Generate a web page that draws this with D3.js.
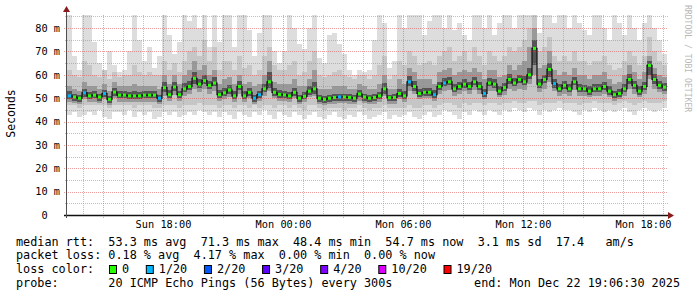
<!DOCTYPE html>
<html>
<head>
<meta charset="utf-8">
<script src="https://cdn.jsdelivr.net/npm/d3@7"></script>
<style>
  body { margin: 0; background: #fff; }
  text { font-family: "DejaVu Sans Mono", monospace; }
</style>
</head>
<body>
<svg id="chart"></svg>
<script>
// Time range of the graph (UTC), one column per 15 minutes.
const startTime = new Date(Date.UTC(2025, 11, 21, 13, 12));
const endTime = new Date(Date.UTC(2025, 11, 22, 19, 12));
const stepMin = 15;

// Median rtt per column (ms).
const median = [
  51, 50.5, 50, 52.3, 51, 51.3, 50.5, 52, 49.5, 52.6,
  51.3, 51.3, 51, 51, 51, 51.3, 51.3, 51.3, 50, 54.5,
  51.5, 54.8, 51.5, 54, 55, 58.5, 56, 57.5, 55.5, 56.5,
  51.5, 52.3, 53.5, 51, 55, 51, 52.5, 50, 51.5, 54,
  57, 52.5, 51.6, 51.4, 51, 52.5, 50, 50.8, 53, 54,
  50, 49.5, 50, 50.3, 50.5, 50.5, 50.3, 50, 51.8, 50.5,
  50, 50.3, 51, 54, 50.2, 50.3, 52, 51, 57, 55,
  52, 52.5, 52.5, 51.5, 55, 56.5, 57, 54, 55, 56,
  55, 57, 55, 52, 56.5, 56, 53, 54.5, 58, 56.5,
  58, 57, 60, 71.3, 56, 58, 62.3, 56.2, 54, 55.5,
  54, 57, 54, 54, 53, 54, 54, 55, 53, 51.5,
  52, 54, 58, 55.5, 53, 55, 64, 58, 55.5, 54.7
];

// Lost pings (of 20) per column.
const loss = [
  1, 0, 0, 1, 0, 0, 0, 1, 0, 0,
  0, 0, 0, 0, 0, 0, 0, 0, 1, 0,
  0, 0, 0, 0, 0, 0, 0, 0, 0, 0,
  0, 0, 0, 0, 0, 0, 0, 1, 1, 0,
  0, 0, 0, 0, 0, 0, 0, 0, 0, 0,
  0, 0, 0, 0, 1, 0, 0, 0, 0, 0,
  0, 0, 0, 0, 0, 0, 0, 0, 1, 0,
  0, 0, 0, 1, 0, 1, 0, 0, 0, 0,
  0, 0, 0, 1, 0, 0, 0, 0, 0, 0,
  0, 0, 0, 0, 0, 0, 0, 1, 0, 0,
  0, 0, 0, 0, 0, 0, 0, 0, 0, 0,
  0, 0, 0, 0, 0, 0, 0, 0, 0, 0
];

// Slowest ping per column (ms); values above the top are clipped.
const pingMax = [
  86, 68, 62, 86, 86, 74, 65, 60, 70, 64,
  61, 62, 70, 86, 75, 66, 72, 63, 68, 86,
  77, 69, 74, 86, 83, 86, 80, 86, 72, 86,
  74, 86, 86, 72, 86, 86, 79, 68, 78, 86,
  86, 70, 65, 70, 86, 80, 73, 71, 80, 86,
  67, 65, 77, 78, 73, 69, 62, 60, 62, 61,
  62, 75, 86, 82, 63, 66, 86, 80, 86, 86,
  86, 77, 83, 86, 86, 80, 86, 79, 82, 77,
  75, 86, 86, 80, 86, 77, 82, 86, 86, 80,
  86, 86, 86, 86, 78, 86, 86, 82, 86, 86,
  80, 86, 82, 79, 77, 86, 86, 80, 75, 86,
  82, 77, 86, 80, 75, 82, 86, 80, 75, 69
];

// Upper outer smoke (ms).
const pingHiMid = [
  62, 60, 59, 66, 64, 60, 59, 62, 58, 61,
  59, 60, 60, 64, 61, 60, 61, 60, 60, 66,
  62, 65, 61, 66, 70, 72, 68, 75, 66, 72,
  62, 66, 66, 62, 68, 63, 64, 60, 62, 68,
  72, 64, 62, 62, 64, 66, 60, 61, 66, 70,
  60, 59, 60, 61, 62, 60, 59, 58, 60, 60,
  58, 60, 64, 68, 58, 60, 66, 64, 70, 68,
  64, 65, 66, 64, 68, 70, 72, 66, 68, 70,
  66, 72, 68, 64, 70, 68, 66, 68, 72, 70,
  72, 75, 80, 86, 70, 72, 76, 68, 66, 68,
  66, 70, 66, 66, 64, 66, 66, 68, 64, 62,
  63, 66, 70, 68, 64, 68, 76, 70, 66, 64
];

// Upper inner smoke (ms).
const pingHiIn = [
  55, 54, 53, 57, 55, 55, 54, 56, 53, 57,
  55, 55, 55, 56, 55, 55, 55, 55, 54, 60,
  56, 60, 56, 60, 62, 66, 62, 64, 60, 62,
  56, 58, 59, 56, 60, 56, 57, 55, 56, 60,
  66, 57, 56, 56, 56, 58, 55, 55, 58, 62,
  54, 54, 54, 55, 55, 55, 54, 54, 56, 55,
  54, 54, 56, 60, 54, 54, 58, 56, 63, 61,
  58, 58, 58, 56, 61, 62, 63, 60, 61, 62,
  61, 63, 61, 58, 62, 62, 59, 60, 64, 62,
  64, 66, 72, 80, 63, 64, 70, 62, 60, 61,
  60, 63, 60, 60, 58, 60, 60, 61, 58, 56,
  57, 60, 64, 61, 58, 61, 68, 63, 60, 59
];

// Upper core of the smoke (ms).
const pingHiCore = [
  53, 52, 51.5, 54, 52.5, 53, 52, 53.5, 51, 54.5,
  53, 53, 52.5, 53, 52.5, 53, 53, 53, 51.5, 57,
  53.5, 57, 53, 56.5, 57.5, 61, 58, 60, 57.5, 59,
  53.5, 54.5, 55.5, 53, 57.5, 53, 54.5, 51.5, 53, 56,
  61, 54.5, 53.5, 53, 52.5, 54.5, 51.5, 52.5, 55, 57,
  51.5, 51, 51.5, 52, 52, 52, 52, 51.5, 53.5, 52,
  51.5, 52, 52.5, 56.5, 51.5, 52, 54, 53, 59.5, 57.5,
  54, 54.5, 54.5, 53.5, 57, 58.5, 59, 56, 57, 58,
  57, 59, 57, 54, 58.5, 58, 55, 56.5, 60.5, 58.5,
  60, 59.5, 63, 75, 58, 60, 65, 58, 56, 57.5,
  56, 59, 56, 55.5, 55, 56, 56, 57, 55, 53,
  54, 56, 60.5, 57.5, 55, 57, 66, 60.5, 57.5, 56.5
];

// Lower core of the smoke (ms).
const pingLoCore = [
  49.5, 49, 48.5, 50.5, 49.5, 50, 49, 50.5, 48, 51,
  50, 50, 49.5, 49.5, 49.5, 50, 50, 50, 48.5, 52.5,
  50, 53, 50, 52.5, 53.5, 56, 54.5, 56, 54, 55,
  50, 51, 52, 49.5, 53.5, 49.5, 51, 48.5, 50, 52.5,
  54.5, 51, 50, 50, 49.5, 51, 48.5, 49.5, 51.5, 52,
  48.5, 48, 48.5, 49, 49, 49, 49, 48.5, 50.5, 49,
  48.5, 49, 49.5, 52, 49, 49, 50.5, 49.5, 55, 53,
  50.5, 51, 51, 50, 53.5, 55, 55.5, 52.5, 53.5, 54.5,
  53.5, 55.5, 53.5, 50.5, 55, 54.5, 51.5, 53, 56, 55,
  56.5, 55.5, 58, 64, 54.5, 56.5, 59, 54.5, 52.5, 54,
  52.5, 55.5, 52.5, 52.5, 51.5, 52.5, 52.5, 53.5, 51.5, 50,
  50.5, 52.5, 56, 54, 51.5, 53.5, 60, 56, 54, 53
];

// Lower inner smoke (ms).
const pingLoIn = [
  48.5, 48, 47.5, 49.5, 48.5, 48.5, 48, 49.5, 47, 50,
  48.5, 48.5, 48.5, 48.5, 48.5, 48.5, 48.5, 48.5, 47.5, 51,
  49, 51.5, 49, 51, 52, 54, 52.5, 54, 52, 53,
  49, 49.5, 50.5, 48.5, 52, 48.5, 50, 47.5, 49, 51,
  53, 50, 49, 49, 48.5, 50, 47.5, 48.5, 50.5, 51,
  47.5, 47, 47.5, 47.5, 48, 48, 47.5, 47.5, 49, 48,
  47.5, 47.5, 48.5, 51, 47.5, 47.5, 49.5, 48.5, 53, 52,
  49.5, 50, 50, 49, 52, 53, 53.5, 51, 52, 53,
  52, 53.5, 52, 49.5, 53, 53, 50.5, 51.5, 54, 53,
  54, 53.5, 56, 60, 52.5, 54, 57, 53, 51, 52,
  51, 53.5, 51, 51, 50.5, 51, 51, 52, 50.5, 49,
  49.5, 51, 54, 52, 50.5, 52, 58, 54, 52.5, 52
];

// Lower outer smoke (ms).
const pingLoMid = [
  47, 47, 46, 47, 47, 47, 47, 47, 46, 47,
  47, 47, 47, 46, 47, 47, 47, 46, 46, 47,
  47, 47, 46, 47, 47, 47, 48, 47, 47, 47,
  46, 47, 47, 46, 47, 47, 46, 47, 46, 47,
  47, 46, 47, 47, 46, 47, 46, 45, 47, 47,
  46, 45, 46, 46, 46, 45, 46, 46, 47, 46,
  45, 46, 46, 47, 46, 46, 46, 46, 47, 46,
  46, 47, 47, 46, 47, 48, 48, 47, 46, 48,
  47, 48, 48, 47, 48, 48, 47, 48, 48, 49,
  48, 48, 49, 49, 47, 48, 48, 48, 49, 48,
  48, 48, 47, 48, 48, 49, 48, 48, 48, 47,
  48, 49, 48, 47, 48, 49, 48, 48, 48, 49
];

// Fastest ping per column (ms).
const pingMin = [
  43, 44, 42, 43, 44, 43, 45, 42, 41, 44,
  44, 43, 45, 42, 44, 43, 44, 41, 42, 44,
  43, 44, 42, 43, 44, 43, 45, 44, 43, 44,
  42, 44, 43, 41, 44, 43, 42, 44, 43, 45,
  43, 41, 44, 43, 42, 44, 43, 41, 43, 44,
  42, 41, 43, 44, 42, 41, 43, 42, 44, 43,
  41, 42, 43, 44, 41, 43, 42, 43, 44, 42,
  41, 43, 44, 42, 43, 45, 44, 43, 41, 44,
  43, 45, 44, 43, 45, 44, 43, 45, 44, 46,
  45, 44, 46, 45, 43, 45, 44, 45, 46, 45,
  45, 44, 43, 45, 44, 46, 45, 44, 45, 44,
  45, 46, 44, 43, 45, 46, 45, 44, 45, 46
];

// Axes.
const yMax = 85.6;
const yTicks = [0, 10, 20, 30, 40, 50, 60, 70, 80];
const yTickLabels = ['0  ', '10 m', '20 m', '30 m', '40 m', '50 m', '60 m', '70 m', '80 m'];
const xTickTimes = [
  new Date(Date.UTC(2025, 11, 21, 18)), new Date(Date.UTC(2025, 11, 22, 0)),
  new Date(Date.UTC(2025, 11, 22, 6)), new Date(Date.UTC(2025, 11, 22, 12)),
  new Date(Date.UTC(2025, 11, 22, 18))
];
const xTickLabels = ['Sun 18:00', 'Mon 00:00', 'Mon 06:00', 'Mon 12:00', 'Mon 18:00'];

// Legend.
const statLines = [
  'median rtt:  53.3 ms avg  71.3 ms max  48.4 ms min  54.7 ms now  3.1 ms sd  17.4   am/s',
  'packet loss: 0.18 % avg  4.17 % max  0.00 % min  0.00 % now'
];
const lossLabels = ['0', '1/20', '2/20', '3/20', '4/20', '10/20', '19/20'];
const lossColors = ['#26ff00', '#00b8ff', '#0059ff', '#5e00ff', '#7e00ff', '#dd00ff', '#ff0000'];
const lossSteps = [0, 1, 2, 3, 4, 10, 19];
const probeText = 'probe:       20 ICMP Echo Pings (56 Bytes) every 300s';
const endText = 'end: Mon Dec 22 19:06:30 2025';

// SVG constants.
const width = 697;
const height = 297;
const plot = { left: 67, right: 667, top: 15, bottom: 215 };

const svg = d3.select('#chart')
              .attr('width', width)
              .attr('height', height);

svg.append('rect')
   .attr('width', width)
   .attr('height', height)
   .attr('fill', '#ffffff');

const x = d3.scaleUtc().domain([startTime, endTime]).range([plot.left, plot.right]);
const y = d3.scaleLinear().domain([0, yMax]).range([plot.bottom, plot.top]);

const times = median.map((d, i) => d3.utcMinute.offset(startTime, stepMin * i));
const colW = x(times[1]) - x(times[0]);
const clip = v => Math.min(v, yMax);

// Smoke: outer to inner bands.
const bands = [
  [pingMin, pingMax, '#dddddd'],
  [pingLoMid, pingHiMid, '#c6c6c6'],
  [pingLoIn, pingHiIn, '#999999'],
  [pingLoCore, pingHiCore, '#555555']
];
bands.forEach(([lo, hi, color]) => {
  svg.append('g')
     .selectAll('rect')
     .data(times)
     .join('rect')
     .attr('x', d => x(d))
     .attr('width', colW)
     .attr('y', (d, i) => y(clip(hi[i])))
     .attr('height', (d, i) => y(lo[i]) - y(clip(hi[i])))
     .attr('fill', color)
     .attr('shape-rendering', 'crispEdges');
});

// Grid.
const grid = svg.append('g').attr('shape-rendering', 'crispEdges');
const minorCol = 'rgba(140,140,140,0.55)';
const majorCol = 'rgba(225,80,80,0.55)';
d3.utcHour.range(startTime, endTime).forEach(t => {
  const major = t.getUTCHours() % 3 === 0;
  grid.append('line')
      .attr('x1', Math.round(x(t)) + 0.5).attr('x2', Math.round(x(t)) + 0.5)
      .attr('y1', plot.top).attr('y2', plot.bottom + (major ? 3 : 2))
      .attr('stroke', major ? majorCol : minorCol)
      .attr('stroke-dasharray', '1,1');
});
d3.range(5, yMax, 5).forEach(v => {
  const major = v % 10 === 0;
  grid.append('line')
      .attr('x1', plot.left - (major ? 3 : 2)).attr('x2', plot.right + 1)
      .attr('y1', Math.round(y(v)) + 0.5).attr('y2', Math.round(y(v)) + 0.5)
      .attr('stroke', major ? majorCol : minorCol)
      .attr('stroke-dasharray', '1,1');
});

// Median line and loss-coloured marks.
const colorFor = l => {
  let c = lossColors[0];
  lossSteps.forEach((s, k) => { if (l >= s) c = lossColors[k]; });
  return c;
};
svg.append('path')
   .datum(median)
   .attr('d', d3.line()
                .x((d, i) => x(times[i]) + colW / 2)
                .y(d => y(d))
                .curve(d3.curveStep))
   .attr('fill', 'none')
   .attr('stroke', '#111111')
   .attr('stroke-width', 1.2);
svg.append('g')
   .selectAll('rect')
   .data(median)
   .join('rect')
   .attr('x', (d, i) => x(times[i]) + 1)
   .attr('width', colW - 2)
   .attr('y', d => y(d) - 1.5)
   .attr('height', 3)
   .attr('fill', (d, i) => colorFor(loss[i]));

// Axis lines and arrows.
svg.append('line')
   .attr('x1', plot.left - 3).attr('x2', plot.right + 3)
   .attr('y1', plot.bottom + 0.5).attr('y2', plot.bottom + 0.5)
   .attr('stroke', '#101010').attr('stroke-width', 1.4);
svg.append('line')
   .attr('x1', plot.left - 0.5).attr('x2', plot.left - 0.5)
   .attr('y1', plot.bottom + 3).attr('y2', plot.top - 4)
   .attr('stroke', '#505050');
svg.append('path')
   .attr('d', `M${plot.right + 1},${plot.bottom - 3}L${plot.right + 7},${plot.bottom + 0.5}L${plot.right + 1},${plot.bottom + 4}Z`)
   .attr('fill', '#8b1a1a');
svg.append('path')
   .attr('d', `M${plot.left - 4},${plot.top - 3}L${plot.left - 0.5},${plot.top - 9}L${plot.left + 3},${plot.top - 3}Z`)
   .attr('fill', '#8b1a1a');

// Tick labels.
const yAxis = svg.append('g')
   .attr('transform', `translate(${plot.left},0)`)
   .call(d3.axisLeft(y).tickValues(yTicks).tickSize(0).tickPadding(7)
           .tickFormat((d, i) => yTickLabels[i]));
yAxis.select('.domain').remove();
yAxis.selectAll('text')
     .attr('font-family', '"DejaVu Sans Mono", monospace')
     .attr('font-size', '10.3px')
     .attr('fill', '#000')
     .style('white-space', 'pre');

const xAxis = svg.append('g')
   .attr('transform', `translate(0,${plot.bottom})`)
   .call(d3.axisBottom(x).tickValues(xTickTimes).tickSize(0).tickPadding(6)
           .tickFormat((d, i) => xTickLabels[i]));
xAxis.select('.domain').remove();
xAxis.selectAll('text')
     .attr('font-family', '"DejaVu Sans Mono", monospace')
     .attr('font-size', '10.3px')
     .attr('fill', '#000');

// Vertical title.
svg.append('text')
   .attr('transform', 'translate(14.5,113.5) rotate(-90)')
   .attr('text-anchor', 'middle')
   .attr('font-size', '11.5px')
   .text('Seconds');

// Watermark.
svg.append('text')
   .attr('transform', 'translate(685,5) rotate(90)')
   .attr('font-size', '8.1px')
   .attr('fill', '#b8b8b8')
   .text('RRDTOOL / TOBI OETIKER');

// Legend.
const legendFont = '11.8px';
const lineY = [245.5, 259.3, 273.1, 286.9];
statLines.forEach((s, i) => {
  svg.append('text')
     .attr('x', 16).attr('y', lineY[i])
     .attr('font-size', legendFont)
     .style('white-space', 'pre')
     .text(s);
});
svg.append('text')
   .attr('x', 16).attr('y', lineY[2])
   .attr('font-size', legendFont)
   .text('loss color:');
let cursor = 109;
lossLabels.forEach((label, k) => {
  svg.append('rect')
     .attr('x', cursor + 0.5).attr('y', 265.5)
     .attr('width', 7).attr('height', 8)
     .attr('fill', lossColors[k])
     .attr('stroke', '#000');
  const t = svg.append('text')
     .attr('x', cursor + 13).attr('y', lineY[2])
     .attr('font-size', legendFont)
     .text(label);
  cursor += 13 + t.node().getComputedTextLength() + 16.7;
});
svg.append('text')
   .attr('x', 16).attr('y', lineY[3])
   .attr('font-size', legendFont)
   .style('white-space', 'pre')
   .text(probeText);
svg.append('text')
   .attr('x', 680).attr('y', lineY[3])
   .attr('text-anchor', 'end')
   .attr('font-size', legendFont)
   .text(endText);
</script>
</body>
</html>
